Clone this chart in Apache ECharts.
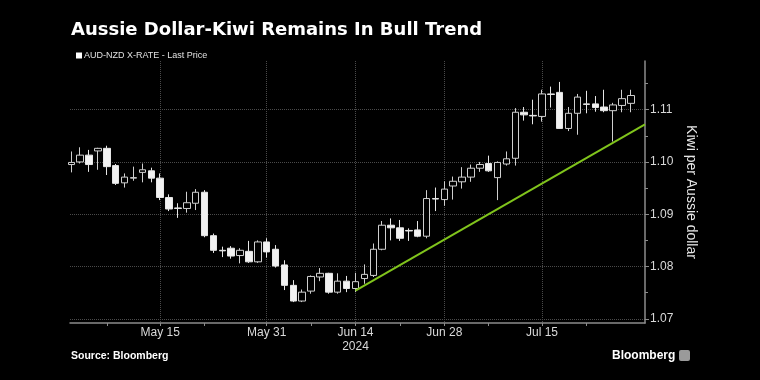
<!DOCTYPE html>
<html>
<head>
<meta charset="utf-8">
<script src="https://cdn.jsdelivr.net/npm/echarts@6/dist/echarts.min.js"></script>
<style>
html,body{margin:0;padding:0;background:#000;}
#chart{width:760px;height:380px;}
</style>
</head>
<body>
<div id="chart"></div>
<script>
// ---- data ----
const dates = ["May 1","May 2","May 3","May 6","May 7","May 8","May 9","May 10","May 13","May 14",
  "May 15","May 16","May 17","May 20","May 21","May 22","May 23","May 24","May 27","May 28",
  "May 29","May 30","May 31","Jun 3","Jun 4","Jun 5","Jun 6","Jun 7","Jun 10","Jun 11",
  "Jun 12","Jun 13","Jun 14","Jun 17","Jun 18","Jun 19","Jun 20","Jun 21","Jun 24","Jun 25",
  "Jun 26","Jun 27","Jun 28","Jul 1","Jul 2","Jul 3","Jul 4","Jul 5","Jul 8","Jul 9",
  "Jul 10","Jul 11","Jul 12","Jul 15","Jul 16","Jul 17","Jul 18","Jul 19","Jul 22","Jul 23",
  "Jul 24","Jul 25","Jul 26","Jul 29"];
const openP = [1.0995,1.1000,1.1013,1.1021,1.1026,1.0993,1.0960,1.0969,1.0980,1.0983,
  1.0969,1.0932,1.0912,1.0911,1.0921,1.0942,1.0859,1.0831,1.0835,1.0821,
  1.0829,1.0809,1.0847,1.0833,1.0803,1.0764,1.0734,1.0753,1.0780,1.0787,
  1.0751,1.0772,1.0758,1.0777,1.0783,1.0833,1.0879,1.0874,1.0869,1.0870,
  1.0858,1.0930,1.0928,1.0954,1.0962,1.0971,1.0988,1.0997,1.0970,1.0996,
  1.1007,1.1095,1.1089,1.1087,1.1130,1.1133,1.1064,1.1093,1.1111,1.1111,
  1.1105,1.1098,1.1108,1.1112];
const closeP = [1.0999,1.1013,1.0995,1.1026,1.0991,1.0959,1.0971,1.0970,1.0985,1.0969,
  1.0932,1.0910,1.0911,1.0922,1.0942,1.0859,1.0831,1.0830,1.0820,1.0831,
  1.0809,1.0847,1.0828,1.0801,1.0764,1.0734,1.0751,1.0781,1.0787,1.0751,
  1.0772,1.0758,1.0771,1.0785,1.0833,1.0879,1.0874,1.0854,1.0868,1.0858,
  1.0930,1.0929,1.0948,1.0963,1.0971,1.0988,1.0995,1.0983,1.0999,1.1006,
  1.1095,1.1090,1.1088,1.1130,1.1129,1.1064,1.1093,1.1124,1.1110,1.1104,
  1.1098,1.1109,1.1121,1.1127];
const lowP = [1.0980,1.0997,1.0981,1.0985,1.0975,1.0956,1.0951,1.0964,1.0961,1.0961,
  1.0927,1.0906,1.0893,1.0903,1.0908,1.0856,1.0826,1.0818,1.0815,1.0806,
  1.0807,1.0807,1.0817,1.0798,1.0755,1.0732,1.0732,1.0748,1.0772,1.0748,
  1.0748,1.0751,1.0751,1.0767,1.0780,1.0831,1.0850,1.0849,1.0849,1.0856,
  1.0854,1.0906,1.0916,1.0928,1.0949,1.0962,1.0981,1.0981,1.0927,1.0993,
  1.0993,1.1079,1.1072,1.1077,1.1104,1.1063,1.1059,1.1052,1.1093,1.1096,
  1.1095,1.1039,1.1095,1.1095];
const highP = [1.1020,1.1028,1.1023,1.1027,1.1031,1.0996,1.0978,1.0991,1.0997,1.0989,
  1.0978,1.0938,1.0921,1.0943,1.0948,1.0946,1.0863,1.0838,1.0839,1.0835,
  1.0849,1.0850,1.0854,1.0841,1.0812,1.0774,1.0756,1.0783,1.0797,1.0788,
  1.0787,1.0782,1.0788,1.0804,1.0844,1.0887,1.0892,1.0889,1.0873,1.0887,
  1.0946,1.0951,1.0963,1.0972,1.0990,1.0995,1.1000,1.1012,1.1001,1.1020,
  1.1103,1.1105,1.1119,1.1138,1.1144,1.1153,1.1105,1.1130,1.1136,1.1126,
  1.1138,1.1113,1.1138,1.1138];
// x-axis labels (trading-day index) and minor ticks
const xLabelIdx = [10, 22, 32, 42, 53];
const yearLabel = {32: "2024"};
const xMinorIdx = [4, 15, 27, 37, 47, 58];
// y-axis ticks
const yLabels = [1.07, 1.08, 1.09, 1.10, 1.11];
const yMinor = [1.075, 1.085, 1.095, 1.105, 1.115];
// trend line (from Jun 14 to right edge)
const trendX = [32, 64.6];
const trendY = [1.0754, 1.1072];

const seriesName = "AUD-NZD X-RATE - Last Price";

const candleData = dates.map((d, i) => [i, openP[i], closeP[i], lowP[i], highP[i]]);
const trendData = trendX.map((x, i) => [x, trendY[i]]);

const chart = echarts.init(document.getElementById('chart'), null, {renderer: 'canvas'});
const gridColor = '#4a4a4a';
const axisColor = '#8c8c8c';
const labelColor = '#d9d9d9';
const font = '"Liberation Sans", Arial, sans-serif';

chart.setOption({
  backgroundColor: '#000',
  animation: false,
  textStyle: {fontFamily: font},
  title: {
    text: 'Aussie Dollar-Kiwi Remains In Bull Trend',
    left: 66, top: 16,
    textStyle: {color: '#fff', fontSize: 18, fontWeight: 'bold', fontFamily: '"DejaVu Sans", sans-serif'}
  },
  legend: {
    data: [{name: seriesName, icon: 'rect', itemStyle: {color: '#fff', borderWidth: 0}}],
    left: 71, top: 46, itemWidth: 6, itemHeight: 6, itemGap: 2,
    textStyle: {color: '#e0e0e0', fontSize: 9, fontFamily: font, padding: [0,0,0,-3]}
  },
  grid: {left: 70, right: 115, top: 61, bottom: 57, containLabel: false},
  xAxis: [{
    type: 'value', min: -0.15, max: 64.6, position: 'bottom',
    axisLine: {show: true, onZero: false, lineStyle: {color: axisColor, width: 1.5}},
    axisTick: {show: true, customValues: xLabelIdx, length: 3, lineStyle: {color: axisColor}},
    axisLabel: {
      customValues: xLabelIdx, color: labelColor, fontSize: 12, margin: 3, lineHeight: 14,
      formatter: v => dates[v] + (yearLabel[v] ? '\n' + yearLabel[v] : '')
    },
    splitLine: {show: true, lineStyle: {color: gridColor, type: 'dotted', width: 1}}
  }, {
    type: 'value', min: -0.15, max: 64.6, position: 'bottom',
    axisLine: {show: false, onZero: false},
    axisTick: {show: true, customValues: xMinorIdx, length: 3, lineStyle: {color: axisColor}},
    axisLabel: {show: false},
    splitLine: {show: false}
  }],
  yAxis: [{
    type: 'value', position: 'right', min: 1.0692, max: 1.1193, scale: true,
    name: 'Kiwi per Aussie dollar', nameLocation: 'middle', nameRotate: -90, nameGap: 32,
    nameTextStyle: {color: '#e6e6e6', fontSize: 14, fontFamily: font},
    axisLine: {show: true, onZero: false, lineStyle: {color: axisColor, width: 1.5}},
    axisTick: {show: true, customValues: yLabels, length: 4, lineStyle: {color: axisColor}},
    axisLabel: {customValues: yLabels, color: labelColor, fontSize: 12, margin: 5,
      formatter: v => v.toFixed(2)},
    splitLine: {show: true, lineStyle: {color: gridColor, type: 'dotted', width: 1}}
  }, {
    type: 'value', position: 'right', offset: 0, min: 1.0692, max: 1.1193, scale: true,
    axisLine: {show: false, onZero: false},
    axisTick: {show: true, customValues: yMinor, length: 3, lineStyle: {color: axisColor}},
    axisLabel: {show: false},
    splitLine: {show: false}
  }],
  series: [{
    name: seriesName,
    type: 'candlestick',
    xAxisIndex: 0, yAxisIndex: 0,
    data: candleData,
    encode: {x: 0, y: [1, 2, 3, 4]},
    barWidth: 7,
    clip: true,
    itemStyle: {
      color: '#000', borderColor: '#cfcfcf',
      color0: '#f2f2f2', borderColor0: '#e6e6e6',
      borderWidth: 1
    }
  }, {
    name: 'trend',
    type: 'line',
    xAxisIndex: 0, yAxisIndex: 0,
    data: trendData,
    symbol: 'none',
    lineStyle: {color: '#80c41c', width: 2},
    z: 5
  }],
  graphic: [{
    type: 'text', left: 71, top: 351,
    style: {text: 'Source: Bloomberg', fill: '#fff', font: 'bold 10.5px "Liberation Sans", Arial, sans-serif'}
  }, {
    type: 'text', left: 612, top: 350,
    style: {text: 'Bloomberg', fill: '#fff', font: 'bold 12px "Liberation Sans", Arial, sans-serif'}
  }, {
    type: 'rect', left: 679, top: 350, shape: {width: 11, height: 11, r: 2},
    style: {fill: '#9a9a9a'}
  }]
});
</script>
</body>
</html>
